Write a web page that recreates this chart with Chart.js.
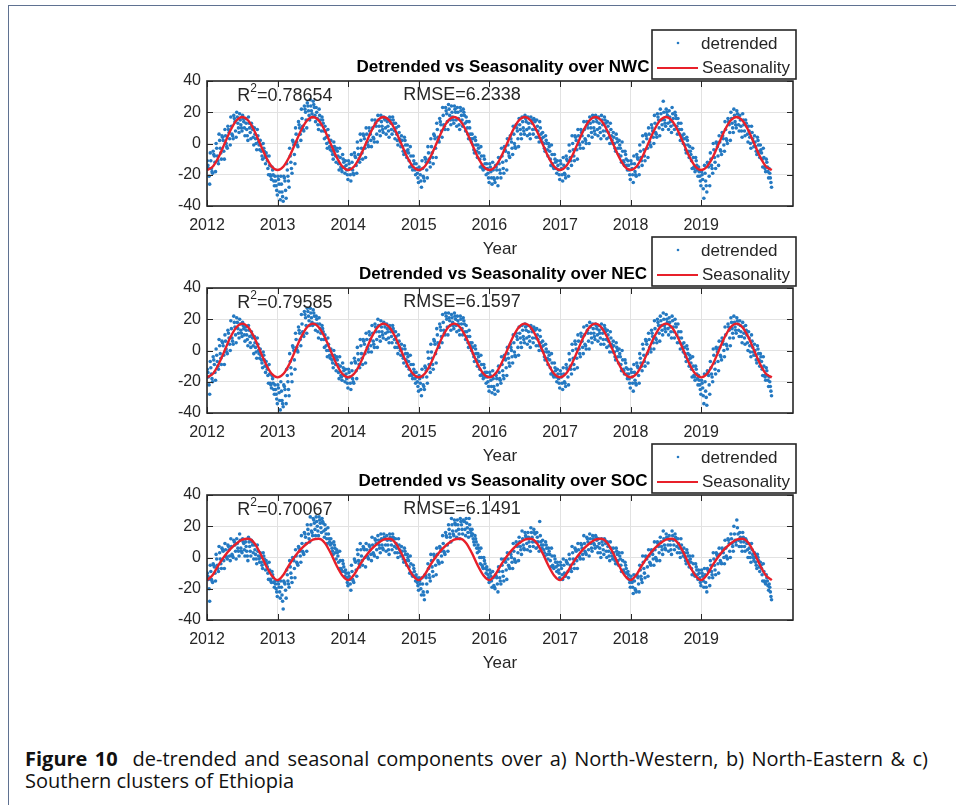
<!DOCTYPE html>
<html>
<head>
<meta charset="utf-8">
<script src="https://cdn.jsdelivr.net/npm/chart.js@4"></script>
<style>
  html, body { margin: 0; padding: 0; background: #fff; }
  body { width: 956px; height: 805px; position: relative; overflow: hidden; }
  .frame-top { position: absolute; left: 8px; top: 5px; width: 948px; height: 0; border-top: 1.5px solid #5f7191; }
  .frame-left { position: absolute; left: 8px; top: 5px; width: 0; height: 800px; border-left: 1.5px solid #5f7191; }
  canvas.panel { position: absolute; left: 0; }
  .caption { position: absolute; left: 25px; top: 748px; width: 903px; font-family: "Open Sans", sans-serif;
             font-size: 20px; line-height: 22px; color: #111; }
  .caption .l1 { text-align: justify; text-align-last: justify; white-space: nowrap; }
</style>
</head>
<body>
<div class="frame-top"></div>
<div class="frame-left"></div>
<canvas id="nwc" class="panel" width="956" height="235" style="top:25px"></canvas>
<canvas id="nec" class="panel" width="956" height="235" style="top:232px"></canvas>
<canvas id="soc" class="panel" width="956" height="235" style="top:439px"></canvas>
<div class="caption">
  <div class="l1"><b>Figure 10</b>&nbsp; de-trended and seasonal components over a) North-Western, b) North-Eastern &amp; c)</div>
  <div>Southern clusters of Ethiopia</div>
</div>
<script>
// tick labels
const years = [2012, 2013, 2014, 2015, 2016, 2017, 2018, 2019];
const yTicks = [-40, -20, 0, 20, 40];

// detrended samples, half-month steps from Jan 2012, read as five layers of the cloud (top to bottom)
const nwcHigh = [
  -11,-6,-5,0,6,5,9,11,17,18,20,19,18,16,17,13,10,9,2,0,-6,-8,-15,-21,
  -21,-21,-21,-13,-3,2,10,14,22,24,26,28,27,23,22,17,11,9,2,1,-3,-3,-7,-11,
  -11,-7,-6,1,6,6,10,10,15,15,18,18,17,16,17,17,13,11,5,4,-1,-2,-8,-13,
  -15,-11,-9,-2,3,6,13,16,23,23,25,24,24,23,23,22,17,14,6,4,-1,-2,-8,-13,
  -13,-12,-14,-9,-3,-2,3,5,11,12,16,17,18,17,17,16,15,14,7,5,0,-1,-7,-11,
  -11,-9,-8,-1,5,5,9,9,14,14,17,18,18,17,18,17,14,13,7,6,2,1,-5,-11,
  -11,-8,-7,-1,5,6,10,12,18,19,22,27,22,21,23,20,16,13,6,4,-2,-3,-9,-15,
  -18,-14,-12,-6,0,1,5,7,14,16,20,22,21,18,19,15,11,11,5,4,-1,-3,-10,-16
];
const nwcUpper = [
  -14,-11,-7,-3,2,4,5,9,11,16,17,15,16,13,13,11,6,5,-1,-3,-8,-14,-17,-24,
  -23,-26,-22,-17,-8,1,6,12,16,22,24,24,25,20,18,15,8,5,-2,-2,-5,-9,-10,-14,
  -13,-12,-8,-3,2,5,6,8,10,13,15,14,16,14,15,15,10,7,2,2,-4,-8,-11,-16,
  -17,-16,-10,-6,-2,5,9,14,18,21,22,20,22,20,21,20,14,10,3,2,-3,-8,-10,-16,
  -15,-17,-15,-13,-8,-4,-1,3,6,10,12,14,16,13,15,15,11,10,4,2,-2,-7,-10,-14,
  -13,-14,-10,-5,0,4,5,7,9,12,13,14,16,13,15,15,11,9,4,3,-1,-5,-7,-14,
  -13,-13,-9,-5,1,5,6,10,13,17,19,20,20,17,19,18,13,9,3,2,-5,-9,-11,-18,
  -20,-19,-13,-10,-4,0,1,5,9,14,16,18,19,15,15,13,8,7,1,2,-4,-9,-12,-19
];
const nwcMid = [
  -16,-16,-8,-8,-3,2,0,7,6,14,13,12,14,9,10,9,3,1,-5,-5,-11,-20,-20,-27,
  -26,-31,-24,-21,-12,-1,1,10,11,20,21,21,23,16,15,13,4,1,-5,-4,-8,-15,-12,-17,
  -16,-17,-9,-7,-3,3,1,6,4,11,11,11,15,11,13,13,6,3,-2,-1,-6,-14,-13,-19,
  -20,-21,-12,-10,-6,3,4,12,12,19,18,17,20,16,18,18,10,6,-1,-1,-6,-14,-13,-19,
  -18,-22,-17,-17,-12,-5,-6,1,0,8,9,10,14,10,13,14,8,6,0,0,-5,-13,-12,-17,
  -16,-19,-11,-9,-4,2,0,5,3,10,10,10,14,10,12,13,7,5,0,1,-3,-11,-10,-17,
  -16,-18,-10,-9,-4,3,1,8,7,15,15,15,18,14,16,16,9,5,-1,-1,-7,-15,-14,-21,
  -23,-24,-15,-14,-9,-2,-4,3,3,12,13,14,17,11,12,11,4,3,-2,-1,-6,-15,-15,-22
];
const nwcLower = [
  -21,-18,-12,-11,-6,-5,-2,3,5,8,10,10,10,5,7,4,0,-1,-8,-9,-16,-21,-24,-30,
  -31,-34,-30,-24,-16,-7,-1,6,9,15,18,19,18,12,12,8,0,-2,-7,-8,-13,-16,-15,-20,
  -20,-19,-14,-10,-6,-3,-1,2,3,6,8,9,10,8,9,8,2,1,-5,-5,-11,-15,-17,-22,
  -24,-22,-17,-12,-9,-3,2,8,11,14,15,15,15,12,15,13,6,3,-4,-5,-10,-16,-16,-22,
  -22,-23,-22,-19,-16,-11,-8,-3,-2,3,6,8,9,6,9,9,4,3,-3,-4,-10,-15,-16,-20,
  -20,-20,-16,-11,-8,-4,-1,1,2,5,7,8,9,7,8,8,4,2,-3,-3,-8,-12,-14,-20,
  -20,-20,-15,-11,-8,-3,-1,4,6,10,12,13,13,11,12,11,6,3,-4,-5,-11,-16,-17,-24,
  -29,-27,-21,-16,-12,-8,-5,-1,2,7,10,12,12,8,8,6,0,1,-5,-5,-10,-16,-18,-25
];
const nwcLow = [
  -26,-19,-18,-13,-10,-10,-3,-1,3,4,7,8,5,2,3,-1,-4,-4,-10,-13,-20,-23,-27,-33,
  -36,-37,-35,-28,-19,-13,-2,2,8,10,15,17,14,9,8,3,-3,-4,-10,-12,-17,-18,-19,-23,
  -24,-20,-19,-12,-10,-9,-2,-2,1,1,5,7,6,4,6,3,-1,-2,-7,-9,-15,-17,-20,-25,
  -28,-24,-22,-15,-13,-9,1,4,9,9,12,13,11,9,11,8,3,1,-6,-9,-15,-17,-20,-25,
  -26,-25,-27,-22,-19,-17,-9,-7,-3,-2,3,6,5,3,6,4,1,1,-5,-8,-14,-16,-19,-23,
  -24,-22,-21,-14,-11,-10,-3,-3,0,0,4,6,5,3,5,3,0,0,-5,-7,-12,-14,-17,-23,
  -25,-21,-20,-14,-11,-9,-2,0,4,5,9,11,9,7,9,6,2,0,-6,-9,-16,-18,-21,-27,
  -35,-31,-27,-19,-16,-14,-7,-5,0,2,7,10,8,4,5,1,-3,-2,-7,-9,-15,-18,-22,-28
];

const necHigh = [
  -12,-7,-4,1,7,6,10,13,19,22,21,20,18,15,16,12,9,8,1,-1,-7,-9,-16,-22,
  -22,-20,-22,-12,-2,3,11,15,23,25,27,27,26,22,21,16,10,8,1,0,-4,-4,-8,-12,
  -12,-8,-5,2,7,7,11,12,16,17,20,19,18,17,16,16,12,10,4,3,-2,-3,-9,-14,
  -16,-12,-10,-1,4,7,14,17,23,24,24,23,24,22,22,21,16,13,5,3,-2,-3,-9,-14,
  -14,-13,-15,-10,-4,-3,2,4,10,11,15,16,17,16,16,15,14,13,6,4,-1,-2,-8,-12,
  -13,-11,-9,-2,4,6,10,11,15,16,18,17,17,16,17,16,13,12,6,5,1,0,-6,-12,
  -12,-9,-8,-2,4,7,11,13,19,20,22,24,23,21,22,20,17,12,5,3,-3,-4,-10,-16,
  -19,-15,-13,-7,1,2,6,8,15,17,21,22,21,19,18,16,12,10,4,3,-2,-4,-11,-17
];
const necUpper = [
  -14,-11,-6,-3,3,5,6,11,14,18,18,17,16,13,13,10,5,4,-3,-3,-10,-15,-18,-25,
  -24,-26,-23,-16,-7,2,7,13,17,23,25,24,24,20,17,14,7,4,-3,-3,-6,-10,-11,-15,
  -14,-13,-7,-2,3,6,7,10,11,15,16,15,17,14,14,14,9,6,1,1,-4,-9,-12,-17,
  -18,-17,-11,-5,-1,6,10,15,18,22,21,21,22,19,20,19,12,9,2,1,-4,-9,-11,-17,
  -16,-18,-16,-14,-9,-5,-2,2,5,9,11,13,15,12,14,14,10,9,3,1,-3,-8,-11,-15,
  -15,-15,-11,-6,0,4,6,9,10,13,15,14,16,13,14,14,10,8,3,2,-2,-6,-8,-15,
  -14,-14,-10,-5,1,6,7,11,14,18,19,20,20,18,19,17,12,8,2,1,-5,-10,-12,-19,
  -21,-20,-14,-11,-3,1,2,6,10,15,18,18,19,16,15,13,8,6,0,1,-4,-10,-13,-20
];
const necMid = [
  -17,-15,-9,-7,-2,3,1,8,8,15,14,13,14,10,9,8,2,0,-6,-6,-12,-21,-21,-28,
  -27,-32,-25,-20,-11,0,2,11,12,21,22,21,22,17,14,12,3,0,-6,-5,-9,-16,-13,-18,
  -17,-18,-8,-6,-2,4,2,7,6,12,12,12,15,12,12,12,5,2,-3,-2,-7,-15,-14,-20,
  -21,-22,-13,-9,-5,4,5,13,13,20,19,18,20,17,17,17,9,5,-2,-2,-7,-15,-14,-20,
  -19,-23,-18,-18,-13,-6,-5,0,-1,7,8,9,13,9,12,13,7,5,-1,-1,-6,-14,-13,-18,
  -17,-20,-12,-10,-5,1,1,6,4,11,11,11,14,11,11,12,6,4,-1,0,-4,-12,-11,-18,
  -17,-19,-11,-8,-3,4,2,9,8,16,16,16,18,15,15,15,8,4,-2,-2,-8,-16,-15,-22,
  -24,-26,-16,-15,-8,-1,-3,4,4,13,14,15,17,12,11,10,3,2,-3,-2,-7,-16,-16,-23
];
const necLower = [
  -22,-18,-14,-10,-5,-3,-1,4,6,10,11,11,10,7,5,3,-1,-2,-8,-10,-16,-22,-25,-31,
  -32,-34,-29,-25,-15,-6,0,7,10,16,19,18,17,12,11,7,0,-3,-8,-9,-14,-17,-16,-21,
  -21,-20,-13,-9,-5,-2,1,3,4,7,9,10,11,8,9,7,2,0,-5,-6,-12,-16,-18,-23,
  -25,-23,-17,-11,-9,-2,3,9,11,15,16,16,16,13,14,12,5,3,-4,-6,-12,-16,-17,-23,
  -23,-25,-22,-19,-16,-11,-8,-4,-3,2,5,7,8,6,8,8,3,2,-4,-5,-11,-16,-17,-21,
  -21,-21,-17,-12,-9,-5,-2,2,3,6,8,9,10,8,7,7,3,2,-4,-4,-9,-13,-15,-21,
  -21,-21,-16,-10,-7,-2,1,5,7,11,13,14,14,12,12,10,5,2,-4,-6,-12,-17,-18,-25,
  -29,-30,-22,-17,-12,-7,-4,0,3,8,11,13,13,9,8,5,-1,-1,-6,-6,-12,-17,-19,-26
];
const necLow = [
  -28,-20,-19,-12,-9,-9,-2,0,4,5,8,9,6,3,2,-2,-5,-5,-11,-14,-21,-24,-28,-34,
  -38,-36,-34,-29,-20,-12,-1,3,9,11,16,16,13,8,7,2,-4,-5,-11,-13,-18,-19,-20,-24,
  -25,-21,-18,-11,-9,-8,-1,-1,2,2,6,8,7,5,5,2,-2,-3,-8,-10,-16,-18,-21,-26,
  -29,-25,-21,-14,-12,-8,2,5,10,10,13,14,12,10,10,7,2,0,-7,-10,-16,-18,-21,-26,
  -27,-28,-26,-21,-18,-16,-10,-8,-4,-3,2,5,4,2,5,3,0,0,-6,-9,-15,-17,-20,-24,
  -25,-23,-22,-15,-12,-11,-4,-2,1,1,5,7,6,4,4,2,-1,-1,-6,-8,-13,-15,-18,-24,
  -26,-22,-21,-13,-10,-8,-1,1,5,6,10,12,10,8,8,5,1,-1,-7,-10,-17,-19,-22,-28,
  -34,-35,-28,-20,-15,-13,-6,-4,1,3,8,11,9,5,4,0,-4,-3,-8,-10,-16,-19,-23,-29
];

const socHigh = [
  -10,-5,-4,2,7,6,9,8,12,11,12,15,12,10,13,11,8,8,3,3,-2,-3,-9,-15,
  -15,-15,-15,-8,-2,0,5,7,14,16,21,26,25,26,26,25,21,19,12,10,5,4,-2,-8,
  -10,-5,-1,5,9,7,9,8,13,12,14,15,15,14,15,15,12,12,7,6,2,1,-5,-11,
  -13,-13,-11,-4,2,2,6,7,14,16,21,25,24,24,25,24,25,25,18,14,8,6,0,-6,
  -8,-9,-11,-6,-1,-1,3,3,9,10,13,17,16,16,19,18,16,23,11,10,6,6,1,-3,
  -3,-1,-2,2,7,6,9,9,14,13,15,14,14,12,12,12,10,10,6,6,3,3,-3,-9,
  -12,-11,-11,-5,1,1,5,5,10,10,13,17,15,14,17,15,12,12,6,5,1,1,-4,-8,
  -8,-7,-7,-2,3,3,6,6,11,12,15,20,24,16,16,12,9,9,3,2,-3,-4,-11,-17
];
const socUpper = [
  -12,-9,-5,-1,3,5,5,7,7,10,9,11,10,7,10,10,5,4,0,1,-4,-8,-11,-17,
  -17,-19,-16,-11,-6,-1,1,6,9,15,18,21,24,23,24,23,18,15,9,8,3,-2,-4,-10,
  -12,-9,-2,2,5,6,5,7,8,11,11,12,13,11,13,13,9,8,4,4,0,-4,-7,-13,
  -15,-17,-12,-7,-2,1,2,6,9,14,18,21,22,21,23,23,22,21,15,12,6,0,-2,-8,
  -10,-13,-12,-9,-5,-2,-1,2,4,8,10,12,14,13,16,16,13,14,8,8,4,1,-1,-5,
  -5,-5,-3,-1,3,5,5,8,9,12,12,12,13,9,10,11,7,6,3,4,1,-2,-5,-11,
  -14,-15,-12,-8,-3,0,1,4,5,9,10,12,13,11,14,13,9,8,3,3,-1,-4,-6,-10,
  -10,-11,-8,-5,-1,2,2,5,6,11,12,15,19,13,13,11,6,5,0,0,-5,-9,-13,-19
];
const socMid = [
  -14,-14,-6,-5,-1,4,1,5,2,8,6,6,9,4,7,8,2,1,-3,-1,-6,-14,-13,-20,
  -19,-24,-17,-15,-10,-2,-3,4,4,13,15,17,22,20,22,22,15,12,6,6,1,-7,-6,-13,
  -14,-14,-3,-2,1,5,1,5,3,9,8,8,12,8,11,12,6,5,1,2,-2,-10,-9,-16,
  -17,-22,-13,-11,-6,0,-2,4,4,13,15,17,21,18,21,23,19,18,12,10,4,-5,-4,-11,
  -12,-18,-13,-13,-9,-3,-5,0,-1,7,7,8,13,10,13,15,10,10,5,6,2,-5,-3,-8,
  -7,-10,-4,-5,-1,4,1,6,4,10,9,9,11,6,8,9,4,3,0,2,-1,-8,-7,-14,
  -16,-20,-13,-12,-7,-1,-3,2,0,7,7,8,12,8,11,12,6,5,0,1,-3,-10,-8,-13,
  -12,-16,-9,-9,-5,1,-2,3,1,9,9,11,15,10,10,9,3,2,-3,-2,-7,-15,-15,-22
];
const socLower = [
  -20,-15,-10,-7,-4,-2,0,1,1,4,4,4,5,1,4,3,-1,-1,-5,-4,-10,-15,-16,-22,
  -22,-28,-21,-17,-13,-7,-4,1,3,9,12,16,18,17,19,17,12,10,4,3,-3,-8,-9,-16,
  -17,-15,-8,-4,-2,0,0,2,2,5,6,6,8,5,8,7,3,3,-1,-2,-6,-11,-12,-18,
  -20,-24,-17,-13,-9,-5,-3,1,3,8,13,15,17,15,18,18,16,16,10,6,0,-6,-7,-13,
  -15,-19,-17,-15,-12,-8,-6,-3,-2,3,5,6,9,7,10,10,7,8,3,2,-2,-6,-6,-10,
  -11,-11,-9,-7,-4,-2,0,2,3,5,6,8,7,3,5,4,1,1,-2,-2,-5,-9,-10,-16,
  -19,-21,-17,-14,-10,-6,-4,-1,-1,3,5,6,8,5,8,7,3,3,-2,-2,-7,-11,-11,-16,
  -15,-19,-13,-11,-8,-4,-3,0,0,4,7,10,11,7,7,5,0,0,-5,-6,-11,-16,-18,-25
];
const socLow = [
  -28,-16,-15,-9,-7,-7,-1,-2,0,-1,1,3,1,-2,1,-1,-4,-3,-7,-8,-14,-16,-19,-25,
  -26,-33,-26,-19,-16,-13,-5,-3,2,4,10,14,14,14,16,13,9,8,2,-1,-7,-9,-12,-18,
  -21,-16,-12,-6,-5,-6,-1,-2,1,0,3,5,4,2,5,3,0,1,-3,-5,-10,-12,-15,-21,
  -24,-27,-22,-15,-12,-11,-4,-3,2,4,10,14,13,12,15,14,13,14,8,3,-4,-7,-10,-16,
  -19,-20,-22,-17,-15,-14,-7,-7,-3,-2,2,5,5,4,7,6,4,6,1,-1,-6,-7,-9,-13,
  -14,-12,-13,-9,-7,-7,-1,-1,2,1,4,6,3,0,2,0,-2,-1,-4,-5,-9,-10,-13,-19,
  -23,-22,-22,-16,-13,-12,-5,-5,-2,-2,2,5,4,2,5,3,0,1,-4,-6,-11,-12,-14,-18,
  -19,-22,-18,-13,-11,-10,-4,-4,-1,0,4,8,7,4,4,0,-3,-2,-7,-9,-15,-17,-21,-27
];

// seasonal component, monthly from Jan 2012 to Jan 2020
const nwcSeason = [
  -17,-14.7,-8.5,0,8.5,14.7,17,14.7,8.5,0,-8.5,-14.7,
  -17,-14.7,-8.5,0,8.5,14.7,17,14.7,8.5,0,-8.5,-14.7,
  -17,-14.7,-8.5,0,8.5,14.7,17,14.7,8.5,0,-8.5,-14.7,
  -17,-14.7,-8.5,0,8.5,14.7,17,14.7,8.5,0,-8.5,-14.7,
  -17,-14.7,-8.5,0,8.5,14.7,17,14.7,8.5,0,-8.5,-14.7,
  -17,-14.7,-8.5,0,8.5,14.7,17,14.7,8.5,0,-8.5,-14.7,
  -17,-14.7,-8.5,0,8.5,14.7,17,14.7,8.5,0,-8.5,-14.7,
  -17,-14.7,-8.5,0,8.5,14.7,17,14.7,8.5,0,-8.5,-14.7,
  -17
];
const necSeason = [
  -17.2,-14.9,-8.6,0,8.6,14.9,17.2,14.9,8.6,0,-8.6,-14.9,
  -17.2,-14.9,-8.6,0,8.6,14.9,17.2,14.9,8.6,0,-8.6,-14.9,
  -17.2,-14.9,-8.6,0,8.6,14.9,17.2,14.9,8.6,0,-8.6,-14.9,
  -17.2,-14.9,-8.6,0,8.6,14.9,17.2,14.9,8.6,0,-8.6,-14.9,
  -17.2,-14.9,-8.6,0,8.6,14.9,17.2,14.9,8.6,0,-8.6,-14.9,
  -17.2,-14.9,-8.6,0,8.6,14.9,17.2,14.9,8.6,0,-8.6,-14.9,
  -17.2,-14.9,-8.6,0,8.6,14.9,17.2,14.9,8.6,0,-8.6,-14.9,
  -17.2,-14.9,-8.6,0,8.6,14.9,17.2,14.9,8.6,0,-8.6,-14.9,
  -17.2
];
const socSeason = [
  -14.5,-11,-4.5,1,5.5,9,11.5,12,9.5,3,-5,-11.5,
  -14.5,-11,-4.5,1,5.5,9,11.5,12,9.5,3,-5,-11.5,
  -14.5,-11,-4.5,1,5.5,9,11.5,12,9.5,3,-5,-11.5,
  -14.5,-11,-4.5,1,5.5,9,11.5,12,9.5,3,-5,-11.5,
  -14.5,-11,-4.5,1,5.5,9,11.5,12,9.5,3,-5,-11.5,
  -14.5,-11,-4.5,1,5.5,9,11.5,12,9.5,3,-5,-11.5,
  -14.5,-11,-4.5,1,5.5,9,11.5,12,9.5,3,-5,-11.5,
  -14.5,-11,-4.5,1,5.5,9,11.5,12,9.5,3,-5,-11.5,
  -14.5
];

const FONT = '"Liberation Sans", Arial, sans-serif';
const INK = '#262626';
const BLUE = '#2479c2';
const RED = '#e8202a';

function halfMonthPoints(values, frac) {
  return values.map((v, i) => ({ x: 2012 + (i + frac) / 24, y: v }));
}

function monthlyPoints(values) {
  return values.map((v, i) => ({ x: 2012 + i / 12, y: v }));
}

// axes box, inward ticks, title, legend and fit statistics (MATLAB look)
const panelDecor = {
  id: 'panelDecor',
  afterDraw(chart, args, opts) {
    const { ctx, chartArea: a, scales: { x, y } } = chart;
    ctx.save();

    ctx.strokeStyle = INK;
    ctx.lineWidth = 1;
    ctx.beginPath();
    years.forEach((v) => {
      const px = Math.round(x.getPixelForValue(v)) + 0.5;
      ctx.moveTo(px, a.bottom); ctx.lineTo(px, a.bottom - 6);
      ctx.moveTo(px, a.top); ctx.lineTo(px, a.top + 6);
    });
    yTicks.forEach((v) => {
      const py = Math.round(y.getPixelForValue(v)) + 0.5;
      ctx.moveTo(a.left, py); ctx.lineTo(a.left + 6, py);
      ctx.moveTo(a.right, py); ctx.lineTo(a.right - 6, py);
    });
    ctx.stroke();

    ctx.lineWidth = 1.6;
    ctx.strokeRect(a.left, a.top, a.right - a.left, a.bottom - a.top);

    // title
    ctx.fillStyle = '#000';
    ctx.font = 'bold 17px ' + FONT;
    ctx.textAlign = 'center';
    ctx.textBaseline = 'middle';
    ctx.fillText(opts.title, (a.left + a.right) / 2 + 3, a.top - 14);

    // fit statistics
    ctx.fillStyle = INK;
    ctx.textAlign = 'left';
    ctx.textBaseline = 'alphabetic';
    let tx = x.getPixelForValue(2012.43);
    const ty = y.getPixelForValue(32) + 7;
    ctx.font = '18px ' + FONT;
    ctx.fillText('R', tx, ty);
    tx += ctx.measureText('R').width;
    ctx.font = '12px ' + FONT;
    ctx.fillText('2', tx, ty - 9);
    tx += ctx.measureText('2').width;
    ctx.font = '18px ' + FONT;
    ctx.fillText('=' + opts.r2, tx, ty);
    ctx.fillText('RMSE=' + opts.rmse, x.getPixelForValue(2014.78), ty - 1);

    // legend box
    const lx = a.right - 141, ly = a.top - 51, lw = 144, lh = 49;
    ctx.fillStyle = '#fff';
    ctx.fillRect(lx, ly, lw, lh);
    ctx.lineWidth = 1.6;
    ctx.strokeStyle = INK;
    ctx.strokeRect(lx, ly, lw, lh);
    ctx.fillStyle = BLUE;
    ctx.beginPath();
    ctx.arc(lx + 26, ly + 13, 1.3, 0, Math.PI * 2);
    ctx.fill();
    ctx.strokeStyle = RED;
    ctx.lineWidth = 2;
    ctx.beginPath();
    ctx.moveTo(lx + 5, ly + 38); ctx.lineTo(lx + 46, ly + 38);
    ctx.stroke();
    ctx.fillStyle = INK;
    ctx.font = '17px ' + FONT;
    ctx.textBaseline = 'middle';
    ctx.fillText('detrended', lx + 49, ly + 14);
    ctx.fillText('Seasonality', lx + 50, ly + 38);

    ctx.restore();
  }
};

function makePanel(id, title, r2, rmse, layers, season) {
  const cloud = [];
  layers.forEach((values, j) => cloud.push(...halfMonthPoints(values, 0.1 + j * 0.2)));
  return new Chart(document.getElementById(id), {
    type: 'scatter',
    data: {
      datasets: [
        {
          label: 'Seasonality',
          data: monthlyPoints(season),
          showLine: true,
          borderColor: RED,
          borderWidth: 2.4,
          pointRadius: 0,
          cubicInterpolationMode: 'monotone',
          order: 1
        },
        {
          label: 'detrended',
          data: cloud,
          pointRadius: 1.8,
          pointBorderWidth: 0,
          pointBackgroundColor: BLUE,
          order: 2
        }
      ]
    },
    options: {
      responsive: false,
      animation: false,
      devicePixelRatio: 1,
      layout: { padding: { left: 167, right: 163, top: 56, bottom: 0 } },
      plugins: {
        legend: { display: false },
        tooltip: { enabled: false },
        panelDecor: { title, r2, rmse }
      },
      scales: {
        x: {
          type: 'linear',
          min: 2012,
          max: 2020.3,
          afterBuildTicks: (s) => { s.ticks = years.map((v) => ({ value: v })); },
          afterFit: (s) => { s.height = 54; },
          grid: { color: '#e2e2e2', drawTicks: false },
          border: { display: false },
          ticks: {
            autoSkip: false, maxRotation: 0, padding: 10, color: INK,
            font: { family: FONT, size: 16 },
            callback: (v) => String(v)
          },
          title: {
            display: true, text: 'Year', color: INK,
            font: { family: FONT, size: 17 },
            padding: { top: 0, bottom: 0 }
          }
        },
        y: {
          min: -40,
          max: 40,
          afterBuildTicks: (s) => { s.ticks = yTicks.map((v) => ({ value: v })); },
          afterFit: (s) => { s.width = 40; },
          grid: { color: '#e2e2e2', drawTicks: false },
          border: { display: false },
          ticks: { padding: 6, color: INK, font: { family: FONT, size: 16 } }
        }
      }
    },
    plugins: [panelDecor]
  });
}

makePanel('nwc', 'Detrended vs Seasonality over NWC', '0.78654', '6.2338',
  [nwcHigh, nwcUpper, nwcMid, nwcLower, nwcLow], nwcSeason);
makePanel('nec', 'Detrended vs Seasonality over NEC', '0.79585', '6.1597',
  [necHigh, necUpper, necMid, necLower, necLow], necSeason);
makePanel('soc', 'Detrended vs Seasonality over SOC', '0.70067', '6.1491',
  [socHigh, socUpper, socMid, socLower, socLow], socSeason);
</script>
</body>
</html>
